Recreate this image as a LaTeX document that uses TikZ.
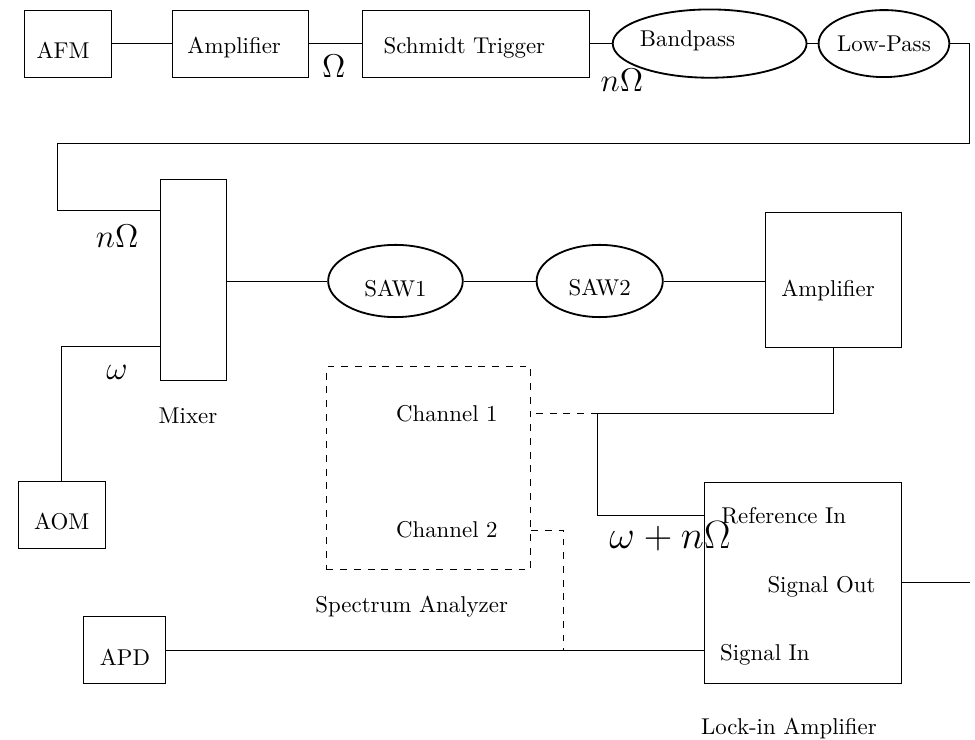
\documentclass[tikz,border=0pt]{standalone}
\usetikzlibrary{shapes.geometric}
\tikzset{
  box/.style={draw, rectangle, inner sep=0pt},
  filt/.style={draw, ellipse, line width=0.8pt, inner sep=0pt},
  freq/.style={font=\Large},
}
\begin{document}
\begin{tikzpicture}
\useasboundingbox (0,0) rectangle (14.99,-11.37);
% top row
\node[box, minimum width=1.34cm, minimum height=1.03cm, label={[shift={(-0.07,-0.1)}]center:AFM}] (afm) at (1.04,-0.67) {};
\node[box, minimum width=2.09cm, minimum height=1.03cm, label={[shift={(-0.09,-0.06)}]center:Amplifier}] (amp1) at (3.69,-0.67) {};
\node[box, minimum width=3.50cm, minimum height=1.03cm, label={[shift={(-0.18,-0.06)}]center:Schmidt Trigger}] (schmitt) at (7.32,-0.67) {};
\node[filt, minimum width=2.98cm, minimum height=1.05cm, label={[xshift=-0.34cm,yshift=0.05cm]center:Bandpass}] (bandpass) at (10.91,-0.67) {};
\node[filt, minimum width=2.01cm, minimum height=1.03cm, label={center:Low-Pass}] (lowpass) at (13.59,-0.67) {};
\draw (afm) -- (amp1);
\draw (amp1) -- (schmitt);
\draw (schmitt) -- (bandpass);
\draw (bandpass) -- (lowpass);
\node[freq] (om) at (5.13,-1.02) {$\Omega$};
\node[freq] (nom1) at (9.56,-1.23) {$n\Omega$};
% mixer and SAW line
\node[box, minimum width=1.01cm, minimum height=3.09cm] (mixer) at (2.97,-4.30) {};
\node (mixlbl) at (2.89,-6.39) {Mixer};
\node[filt, minimum width=2.07cm, minimum height=1.11cm, label={[yshift=-0.12cm]center:SAW1}] (saw1) at (6.08,-4.32) {};
\node[filt, minimum width=1.94cm, minimum height=1.11cm, label={[yshift=-0.1cm]center:SAW2}] (saw2) at (9.22,-4.32) {};
\node[box, minimum width=2.09cm, minimum height=2.07cm, label={[xshift=-0.09cm,yshift=-0.16cm]center:Amplifier}] (amp2) at (12.82,-4.30) {};
\coordinate (nin) at (2.46,-3.24);
\draw (lowpass.east) -| (14.91,-2.20) -| (0.88,-3.24) -- (nin);
\node[freq] (nom2) at (1.80,-3.63) {$n\Omega$};
\draw (mixer.east |- saw1) -- (saw1);
\draw (saw1) -- (saw2);
\draw (saw2) -- (amp2.west |- saw2);
% AOM
\node[box, minimum width=1.34cm, minimum height=1.03cm, label={[yshift=-0.1cm]center:AOM}] (aom) at (0.95,-7.92) {};
\coordinate (win) at (2.46,-5.33);
\draw (aom.north) |- (win);
\node[freq] (w) at (1.80,-5.72) {$\omega$};
% spectrum analyzer
\node[box, dashed, minimum width=3.14cm, minimum height=3.12cm] (sa) at (6.59,-7.20) {};
\node (ch1) at (6.87,-6.36) {Channel 1};
\node (ch2) at (6.87,-8.15) {Channel 2};
\node (salbl) at (6.33,-9.33) {Spectrum Analyzer};
% lock-in
\node[box, minimum width=3.03cm, minimum height=3.10cm] (lockin) at (12.35,-8.96) {};
\node (refin) at (12.05,-7.93) {Reference In};
\node (sigout) at (12.63,-9.02) {Signal Out};
\node (sigin) at (11.76,-10.07) {Signal In};
\node (lilbl) at (12.13,-11.20) {Lock-in Amplifier};
\node[font=\LARGE] (wn) at (10.30,-8.25) {$\omega+n\Omega$};
% APD
\node[box, minimum width=1.26cm, minimum height=1.03cm, label={[yshift=-0.11cm]center:APD}] (apd) at (1.92,-10.00) {};
% connections
\coordinate (tap) at (9.19,-6.36);
\draw (amp2.south) |- (tap);
\draw[dashed] (tap) -- (sa.east |- ch1);
\draw (tap) |- (lockin.west |- refin);
\coordinate (join) at (8.67,-10.00);
\draw[dashed] (sa.east |- ch2) -| (join);
\draw (apd.east) -- (lockin.west |- apd.east);
\coordinate (out) at (14.91,-8.96);
\draw (lockin.east) -- (out);
\end{tikzpicture}
\end{document}
